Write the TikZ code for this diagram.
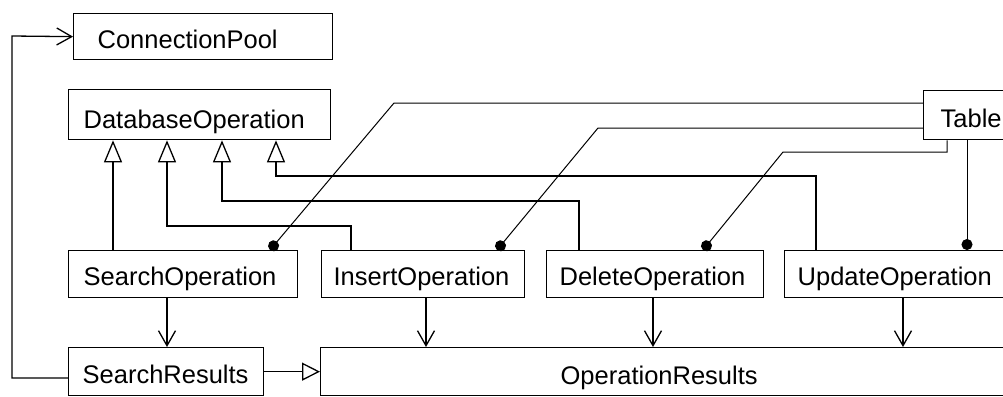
\documentclass[tikz,border=0pt]{standalone}
\usepackage{fontspec}
\setmainfont{Liberation Sans}
\newfontfamily\ufont{Liberation Sans}
\usetikzlibrary{arrows.meta}
\begin{document}
\begin{tikzpicture}[x=1pt,y=-1pt,
  line width=1.3pt,
  box/.style={draw, rectangle, anchor=north west, inner ysep=0pt, align=left,
    font=\ufont\fontsize{25.5}{30}\selectfont, fill=white},
  inh/.style={-{Triangle[open,length=22pt,width=18pt,fill=white]}},
  gen/.style={-{Triangle[open,length=18pt,width=18pt,fill=white]}},
  nav/.style={-{Straight Barb[length=15pt,width=17pt]}},
  comp/.style={line width=1pt,-{Circle[length=11pt]}},
]
\useasboundingbox[fill=white] (0,0) rectangle (1003,396);

\node[box, minimum height=46pt, text height=35pt, text depth=11pt, inner xsep=24pt, text width=211pt] (cp) at (73,13) {ConnectionPool};
\node[box, minimum height=50pt, text height=39pt, text depth=11pt, inner xsep=15pt, text width=232pt] (dbo) at (68,89) {DatabaseOperation};
\node[box, minimum height=49pt, text height=37pt, text depth=12pt, inner xsep=17pt, text width=70pt] (table) at (923,90) {Table};
\node[box, minimum height=47pt, text height=35pt, text depth=12pt, inner xsep=15pt, text width=199pt] (so) at (68,250) {SearchOperation};
\node[box, minimum height=47pt, text height=35pt, text depth=12pt, inner xsep=12pt, text width=179pt] (io) at (321,250) {InsertOperation};
\node[box, minimum height=47pt, text height=35pt, text depth=12pt, inner xsep=13pt, text width=191pt] (do) at (546,250) {DeleteOperation};
\node[box, minimum height=47pt, text height=35pt, text depth=12pt, inner xsep=13pt, text width=214pt] (uo) at (784,250) {UpdateOperation};
\node[box, minimum height=48pt, text height=36pt, text depth=12pt, inner xsep=14pt, text width=167pt] (sr) at (68,347) {SearchResults};
\node[box, minimum height=48pt, text height=37pt, text depth=11pt, inner xsep=240pt, text width=400pt] (or) at (320,347) {OperationResults};

% inheritance to DatabaseOperation
\draw[inh] (so.north -| 113,0) -- (dbo.south -| 113,0);
\draw[inh] (io.north -| 351,0) |- (167,226) -- (dbo.south -| 167,0);
\draw[inh] (do.north -| 579,0) |- (222,201) -- (dbo.south -| 222,0);
\draw[line width=2.6pt, shorten >=22pt] (222,201) -- (dbo.south -| 222,0);
\draw[inh] (uo.north -| 816,0) |- (276,176) -- (dbo.south -| 276,0);

% composition from Table
\draw[comp] (table.west |- 0,103) -- (394,103) -- (so.north -| 270,0);
\draw[comp] (table.west |- 0,128) -- (598,128) -- (io.north -| 497,0);
\draw[comp] (table.south -| 947,0) |- (783,152) -- (do.north -| 703,0);
\draw[comp] (table.south -| 967,0) -- (uo.north -| 967,0);

% navigation
\draw[nav] (so.south -| 167,0) -- (sr.north -| 167,0);
\draw[nav] (io.south -| 426,0) -- (or.north -| 426,0);
\draw[nav] (do.south -| 653,0) -- (or.north -| 653,0);
\draw[nav] (uo.south -| 903,0) -- (or.north -| 903,0);
\draw[nav] (sr.west |- 0,378) -| (12,36) -- (cp.west);

% generalization
\draw[gen] (sr.east) -- (or.west);
\end{tikzpicture}
\end{document}
